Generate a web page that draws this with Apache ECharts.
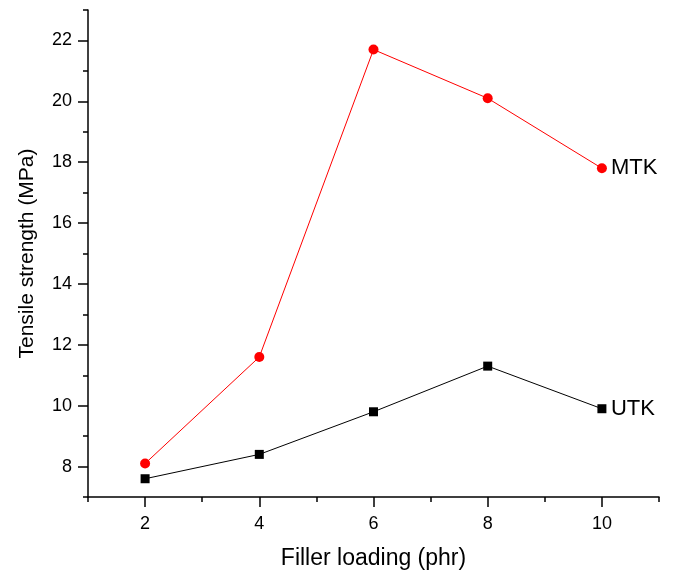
<!DOCTYPE html>
<html>
<head>
<meta charset="utf-8">
<script src="https://cdn.jsdelivr.net/npm/echarts@6/dist/echarts.min.js"></script>
<style>html,body{margin:0;padding:0;background:#fff}#c{width:674px;height:575px}</style>
</head>
<body>
<div id="c"></div>
<script>
const fillerLoading = [2, 4, 6, 8, 10];
const mtkValues = [8.1, 11.6, 21.7, 20.1, 17.8];
const utkValues = [7.6, 8.4, 9.8, 11.3, 9.9];
const xMajorTicks = [2, 4, 6, 8, 10];
const xMinorTicks = [1, 3, 5, 7, 9, 11];
const yMajorTicks = [8, 10, 12, 14, 16, 18, 20, 22];
const yMinorTicks = [7, 9, 11, 13, 15, 17, 19, 21, 23];

const FONT = 'Liberation Sans, Arial, Helvetica, sans-serif';
const chart = echarts.init(document.getElementById('c'), null, {renderer: 'canvas'});

const axisLine = {show: true, onZero: false, lineStyle: {color: '#000', width: 1.5}};

chart.setOption({
  animation: false,
  backgroundColor: '#fff',
  grid: {left: 88, right: 15, top: 10, bottom: 77, containLabel: false},
  xAxis: [
    {
      type: 'value', min: 1, max: 11, position: 'bottom',
      name: 'Filler loading (phr)', nameLocation: 'middle', nameGap: 50,
      nameTextStyle: {fontFamily: FONT, fontSize: 23, color: '#000'},
      axisLine: axisLine,
      splitLine: {show: false},
      axisTick: {show: true, inside: false, length: 10, customValues: xMajorTicks, lineStyle: {color: '#000', width: 1.5}},
      axisLabel: {show: true, customValues: xMajorTicks, margin: 18, fontFamily: FONT, fontSize: 18, color: '#000'}
    },
    {
      type: 'value', min: 1, max: 11, position: 'bottom',
      axisLine: {show: false, onZero: false},
      splitLine: {show: false},
      axisTick: {show: true, length: 5, customValues: xMinorTicks, lineStyle: {color: '#000', width: 1.5}},
      axisLabel: {show: false}
    }
  ],
  yAxis: [
    {
      type: 'value', min: 7, max: 23, position: 'left',
      name: 'Tensile strength (MPa)', nameLocation: 'middle', nameGap: 50, nameRotate: 90,
      nameTextStyle: {fontFamily: FONT, fontSize: 21, color: '#000'},
      axisLine: axisLine,
      splitLine: {show: false},
      axisTick: {show: true, length: 10, customValues: yMajorTicks, lineStyle: {color: '#000', width: 1.5}},
      axisLabel: {show: true, customValues: yMajorTicks, margin: 16, fontFamily: FONT, fontSize: 18, color: '#000'}
    },
    {
      type: 'value', min: 7, max: 23, position: 'left',
      axisLine: {show: false, onZero: false},
      splitLine: {show: false},
      axisTick: {show: true, length: 5, customValues: yMinorTicks, lineStyle: {color: '#000', width: 1.5}},
      axisLabel: {show: false}
    }
  ],
  series: [
    {
      name: 'MTK', type: 'line',
      data: fillerLoading.map((x, i) => [x, mtkValues[i]]),
      symbol: 'circle', symbolSize: 10,
      lineStyle: {color: '#ff0000', width: 1},
      itemStyle: {color: '#ff0000'},
      endLabel: {show: true, formatter: '{a}', distance: 9, fontFamily: FONT, fontSize: 22, color: '#000'}
    },
    {
      name: 'UTK', type: 'line',
      data: fillerLoading.map((x, i) => [x, utkValues[i]]),
      symbol: 'rect', symbolSize: 9,
      lineStyle: {color: '#000', width: 1},
      itemStyle: {color: '#000'},
      endLabel: {show: true, formatter: '{a}', distance: 9, fontFamily: FONT, fontSize: 22, color: '#000'}
    }
  ]
});
</script>
</body>
</html>
